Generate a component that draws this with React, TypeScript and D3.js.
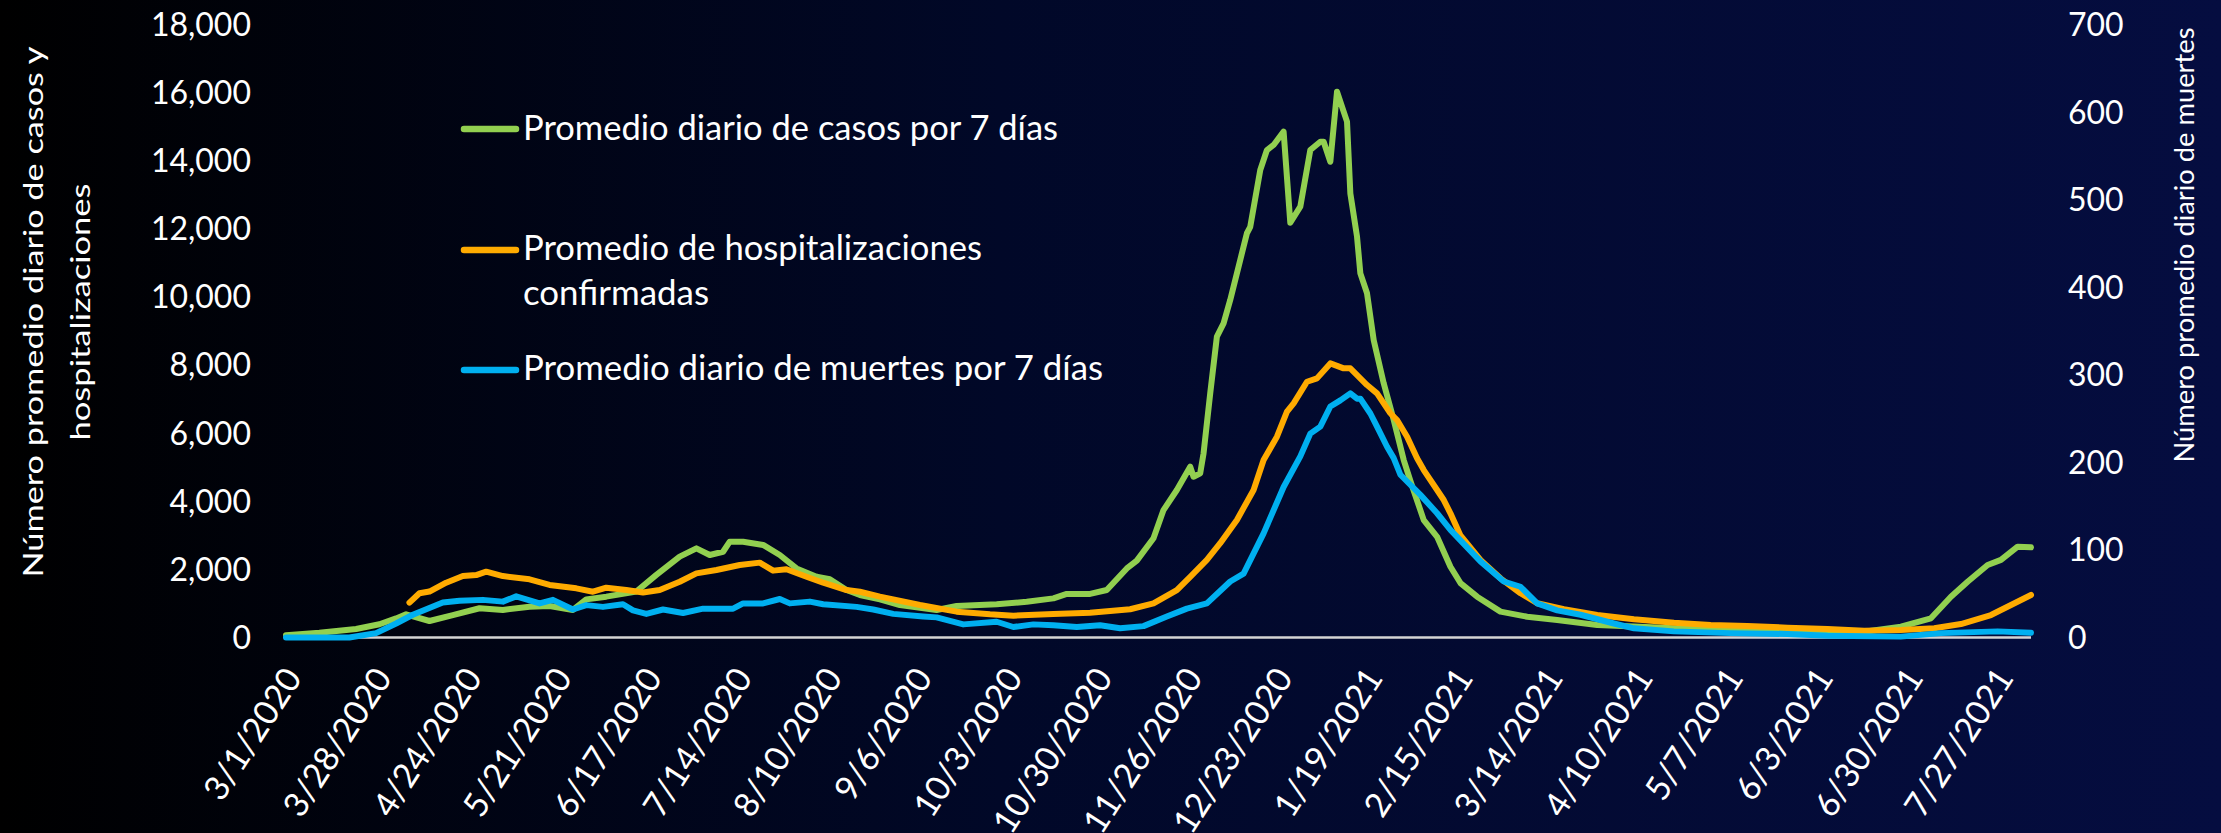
import React from "react";
import * as d3 from "d3";

// ---- data ----
// day offsets counted from 3/1/2020
const caseDays = [0, 10, 21, 28, 33, 36, 43, 50, 58, 65, 73, 79, 86, 90, 96, 105, 111, 118, 123, 127, 131, 133, 137, 143, 148, 153, 159, 163, 168, 172, 178, 184, 195, 201, 213, 222, 230, 234, 241, 246, 252, 255, 260, 263, 267, 271, 272, 274, 275, 277, 279, 281, 283, 286, 288, 289, 292, 294, 296, 299, 301, 304, 307, 310, 311, 313, 315, 318, 319, 321, 322, 324, 326, 329, 332, 335, 337, 341, 345, 349, 352, 357, 364, 372, 381, 393, 404, 416, 438, 462, 473, 484, 493, 499, 504, 510, 514, 519, 523];
const caseValues = [70, 140, 250, 390, 560, 680, 485, 660, 860, 810, 905, 925, 810, 1120, 1200, 1350, 1840, 2375, 2620, 2425, 2520, 2815, 2815, 2720, 2425, 2030, 1785, 1710, 1395, 1250, 1120, 955, 810, 925, 975, 1050, 1150, 1280, 1280, 1395, 2030, 2260, 2915, 3745, 4335, 5020, 4725, 4825, 5410, 7175, 8840, 9230, 9920, 11095, 11880, 12070, 13740, 14325, 14475, 14865, 12190, 12660, 14325, 14570, 14570, 13980, 16040, 15160, 13050, 11780, 10700, 10115, 8740, 7470, 6390, 5215, 4600, 3450, 2960, 2080, 1600, 1200, 760, 610, 515, 370, 320, 270, 200, 140, 170, 320, 565, 1200, 1640, 2130, 2280, 2670, 2650];

const hospDays = [37, 40, 43, 48, 53, 57, 60, 65, 73, 79, 87, 92, 96, 102, 107, 112, 118, 123, 129, 136, 142, 146, 150, 156, 161, 168, 172, 178, 190, 201, 211, 218, 230, 241, 253, 260, 267, 271, 276, 280, 285, 290, 293, 297, 300, 302, 306, 309, 313, 317, 319, 324, 327, 331, 333, 336, 339, 341, 345, 347, 349, 352, 358, 364, 370, 375, 383, 393, 404, 416, 427, 438, 450, 462, 473, 484, 494, 502, 511, 517, 523];
const hospValues = [1025, 1300, 1350, 1610, 1805, 1835, 1935, 1805, 1710, 1545, 1445, 1345, 1465, 1395, 1320, 1395, 1640, 1885, 1985, 2130, 2200, 1965, 2005, 1785, 1610, 1395, 1345, 1200, 955, 760, 680, 640, 690, 730, 830, 1005, 1395, 1785, 2280, 2770, 3455, 4335, 5215, 5900, 6635, 6880, 7515, 7615, 8055, 7910, 7910, 7420, 7175, 6590, 6390, 5900, 5265, 4920, 4335, 4040, 3650, 3000, 2280, 1740, 1300, 1005, 830, 660, 535, 435, 370, 340, 290, 250, 200, 220, 270, 395, 660, 955, 1250];

const deathDays = [0, 19, 27, 33, 38, 47, 52, 59, 65, 69, 76, 80, 86, 90, 95, 101, 104, 108, 113, 119, 125, 134, 137, 143, 148, 151, 157, 161, 171, 176, 182, 191, 195, 203, 213, 218, 224, 230, 237, 244, 250, 257, 264, 270, 276, 283, 287, 293, 299, 304, 307, 310, 313, 316, 319, 321, 322, 325, 327, 330, 332, 334, 340, 345, 349, 352, 358, 365, 370, 375, 381, 388, 398, 404, 416, 433, 450, 462, 484, 496, 513, 523];
const deathValues = [0, 0, 5, 16, 26, 40, 42, 43, 41, 47, 39, 43, 32, 37, 35, 38, 31, 27, 32, 28, 33, 33, 39, 39, 44, 39, 41, 38, 35, 32, 27, 24, 23, 15, 18, 12, 15, 14, 12, 14, 10.5, 13, 24, 33, 39, 64, 73, 119, 172, 207, 233, 241, 264, 271, 279, 273, 273, 256, 241, 218, 205, 186, 163, 142, 123, 111, 87, 64, 58, 39, 31, 26, 16, 10.5, 7, 5, 4, 2, 1, 5, 7, 5.5];

const dateLabels = ["3/1/2020", "3/28/2020", "4/24/2020", "5/21/2020", "6/17/2020", "7/14/2020", "8/10/2020", "9/6/2020", "10/3/2020", "10/30/2020", "11/26/2020", "12/23/2020", "1/19/2021", "2/15/2021", "3/14/2021", "4/10/2021", "5/7/2021", "6/3/2021", "6/30/2021", "7/27/2021"];
const leftTicks = [0, 2000, 4000, 6000, 8000, 10000, 12000, 14000, 16000, 18000];
const rightTicks = [0, 100, 200, 300, 400, 500, 600, 700];

const legendLabels = [
  ["Promedio diario de casos por 7 días"],
  ["Promedio de hospitalizaciones", "confirmadas"],
  ["Promedio diario de muertes por 7 días"],
];
const leftTitle = ["Número promedio diario de casos y", "hospitalizaciones"];
const rightTitle = "Número promedio diario de muertes";

// ---- styling ----
const W = 2221;
const H = 833;
const FONT = "Lato, 'Open Sans', sans-serif";
const GREEN = "#92d050";
const ORANGE = "#ffab00";
const BLUE = "#00b0f0";

const START = new Date(2020, 2, 1);
const parseLabel = d3.timeParse("%m/%d/%Y");

export default function App() {
  const x = d3.scaleLinear().domain([0, 523]).range([286, 2031]);
  const yL = d3.scaleLinear().domain([0, 18000]).range([637.5, 25]);
  const yR = d3.scaleLinear().domain([0, 700]).range([637.5, 25]);

  const lineL = d3
    .line<[number, number]>()
    .x((d) => x(d[0]))
    .y((d) => yL(d[1]));
  const lineR = d3
    .line<[number, number]>()
    .x((d) => x(d[0]))
    .y((d) => yR(d[1]));

  const zip = (a: number[], b: number[]) => a.map((v, i) => [v, b[i]] as [number, number]);
  const fmt = d3.format(",");

  const series = [
    { d: lineL(zip(caseDays, caseValues)), color: GREEN },
    { d: lineL(zip(hospDays, hospValues)), color: ORANGE },
    { d: lineR(zip(deathDays, deathValues)), color: BLUE },
  ];

  const legend = [
    { color: GREEN, lines: legendLabels[0], ys: [140], lens: [535], sy: 129 },
    { color: ORANGE, lines: legendLabels[1], ys: [260, 305], lens: [459, 186], sy: 250 },
    { color: BLUE, lines: legendLabels[2], ys: [380], lens: [580], sy: 370 },
  ];

  return (
    <svg
      width={W}
      height={H}
      style={{ position: "absolute", left: 0, top: 0, display: "block" }}
      fontFamily={FONT}
    >
      <defs>
        <linearGradient id="bg" x1="0" y1="0" x2="1" y2="0">
          <stop offset="0" stopColor="#000000" />
          <stop offset="0.45" stopColor="#010828" />
          <stop offset="1" stopColor="#050d40" />
        </linearGradient>
      </defs>
      <rect x={0} y={0} width={W} height={H} fill="url(#bg)" />

      {/* left ticks */}
      {leftTicks.map((t) => (
        <text key={"l" + t} x={251} y={yL(t)} dy="0.35em" textAnchor="end" fill="#ffffff" fontSize={32}>
          {fmt(t)}
        </text>
      ))}
      {/* right ticks */}
      {rightTicks.map((t) => (
        <text key={"r" + t} x={2068} y={yR(t)} dy="0.35em" textAnchor="start" fill="#ffffff" fontSize={32}>
          {fmt(t)}
        </text>
      ))}

      {/* axis titles */}
      {leftTitle.map((s, i) => (
        <text
          key={"lt" + i}
          transform={`translate(${[43, 90][i]},${312}) rotate(-90)`}
          textAnchor="middle"
          fill="#ffffff"
          fontSize={27}
          textLength={[531, 257][i]}
          lengthAdjust="spacingAndGlyphs"
        >
          {s}
        </text>
      ))}
      <text
        transform={`translate(2194,245) rotate(-90)`}
        textAnchor="middle"
        fill="#ffffff"
        fontSize={26}
        textLength={435}
        lengthAdjust="spacingAndGlyphs"
      >
        {rightTitle}
      </text>

      {/* x axis line */}
      <line x1={x(0)} x2={x(523)} y1={yL(0)} y2={yL(0)} stroke="#d4d4d4" strokeWidth={2.5} />

      {/* date labels */}
      {dateLabels.map((s) => {
        const day = d3.timeDay.count(START, parseLabel(s) as Date);
        const px = x(day) + 17;
        return (
          <text
            key={s}
            transform={`translate(${px},678) rotate(-57)`}
            textAnchor="end"
            fill="#ffffff"
            fontSize={34}
          >
            {s}
          </text>
        );
      })}

      {/* series */}
      {series.map((s, i) => (
        <path
          key={i}
          d={s.d || ""}
          fill="none"
          stroke={s.color}
          strokeWidth={6}
          strokeLinejoin="round"
          strokeLinecap="round"
        />
      ))}

      {/* legend */}
      {legend.map((g, i) => (
        <g key={"lg" + i}>
          <line x1={464} x2={516} y1={g.sy} y2={g.sy} stroke={g.color} strokeWidth={6.5} strokeLinecap="round" />
          {g.lines.map((s, j) => (
            <text
              key={j}
              x={523}
              y={g.ys[j]}
              fill="#ffffff"
              fontSize={35}
              textLength={g.lens[j]}
              lengthAdjust="spacingAndGlyphs"
            >
              {s}
            </text>
          ))}
        </g>
      ))}
    </svg>
  );
}
